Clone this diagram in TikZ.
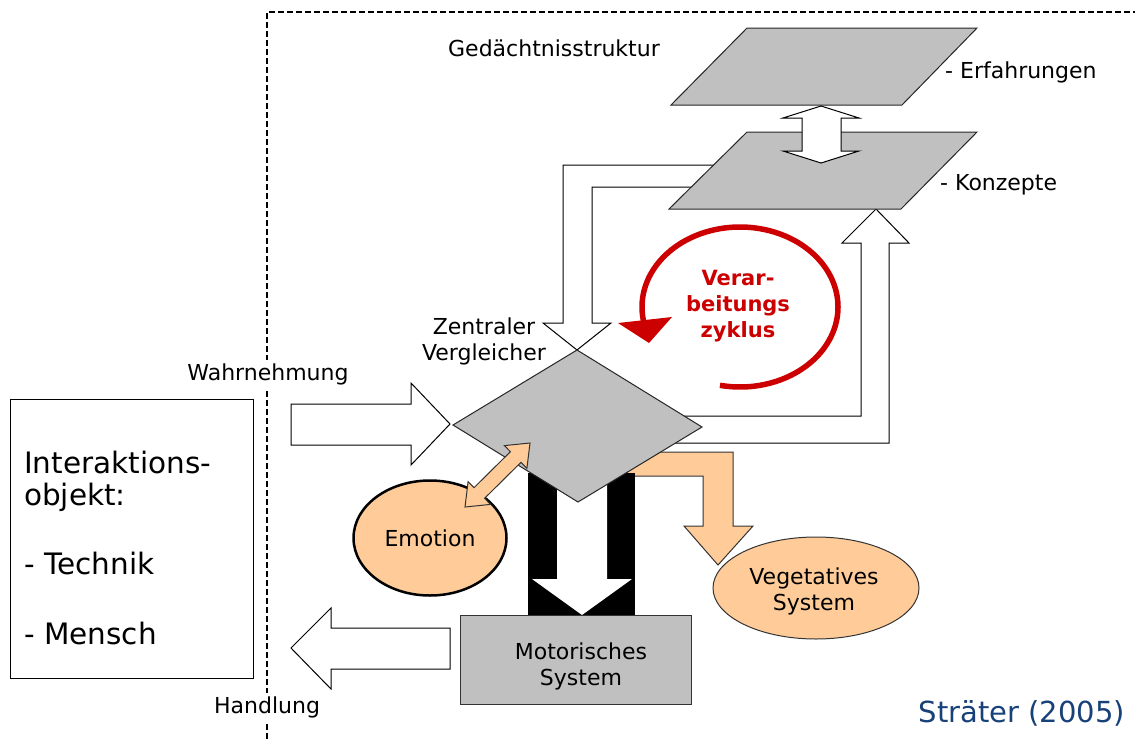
\documentclass[tikz,border=0pt]{standalone}
\usepackage{fontspec}
\setmainfont{DejaVu Sans}
\usetikzlibrary{shapes.geometric}
\definecolor{gfill}{RGB}{192,192,192}
\definecolor{orng}{RGB}{255,204,153}
\definecolor{dred}{RGB}{204,0,0}
\definecolor{dblue}{RGB}{23,65,120}
\begin{document}
\begin{tikzpicture}[x=1pt,y=-1pt,line join=miter,
  plane/.style={fill=gfill,draw=black!85,line width=1pt},
  blockarrow/.style={fill=white,draw=black,line width=1pt},
  orarrow/.style={fill=orng,draw=black!80,line width=1pt},
  lbl/.style={font=\fontsize{22}{26}\selectfont,inner sep=0pt,align=center},
  biglbl/.style={font=\fontsize{29.5}{34}\selectfont,inner sep=0pt,anchor=base west},
  sep/.style={line width=2pt,dash pattern=on 6pt off 3pt}]
\useasboundingbox (0,0) rectangle (1135,739);
% separator
\draw[sep] (267,739) -- (267,12) -- (1135,12);
% interaction object box
\node[draw,line width=1pt,minimum width=243pt,minimum height=279pt,inner sep=0pt] (obj) at (131.5,538.5) {};
\node[biglbl] (o1) at (24,473) {Interaktions-};
\node[biglbl] (o2) at (24,505) {objekt:};
\node[biglbl] (o3) at (24,574) {- Technik};
\node[biglbl] (o4) at (24,644) {- Mensch};
% memory planes
\draw[plane] (747,28) -- (977,28) -- (902,105) -- (671,105) -- cycle;
\draw[blockarrow] (740,165) -- (563,165) -- (563,323) -- (543,323) -- (577,350) -- (611,323) -- (592,323) -- (592,187) -- (740,187) -- cycle;
\draw[blockarrow] (650,416) -- (861,416) -- (861,243) -- (842,243) -- (876,209) -- (909,243) -- (889,243) -- (889,443) -- (650,443) -- cycle;
\draw[plane] (747,132) -- (977,132) -- (901,209) -- (669,209) -- cycle;
\draw[blockarrow] (821,106) -- (859,118) -- (841,118) -- (841,151) -- (859,151) -- (821,163) -- (783,151) -- (802,151) -- (802,118) -- (783,118) -- cycle;
% vegetative arrow
\draw[orarrow] (620,452) -- (733,452) -- (733,526) -- (753,526) -- (718,565) -- (684,526) -- (703,526) -- (703,476) -- (620,476) -- cycle;
% motor arrow
\fill[black] (528,473) rectangle (635,616);
\fill[white] (557,473) -- (607,473) -- (607,579) -- (632,579) -- (582,615) -- (532,579) -- (557,579) -- cycle;
% central comparator
\draw[plane] (577,350) -- (702,427) -- (578,502) -- (453,425) -- cycle;
% perception arrow
\draw[blockarrow] (291,404) -- (411,404) -- (411,383) -- (450,424) -- (411,465) -- (411,445) -- (291,445) -- cycle;
% emotion
\node[ellipse,fill=orng,draw=black,line width=2.5pt,minimum width=153pt,minimum height=115pt,inner sep=0pt] (emo) at (430,538) {};
\draw[orarrow] (465,507) -- (490.5,504.4) -- (484.6,498.3) -- (521.0,462.3) -- (526.9,468.4) -- (530,443) -- (504.5,445.6) -- (510.4,451.7) -- (474.0,487.7) -- (468.1,481.6) -- cycle;
% motor system
\node[draw=black!80,fill=gfill,line width=1pt,minimum width=231pt,minimum height=89pt,inner sep=0pt] (mot) at (575.5,659.5) {};
\draw[blockarrow] (450,628) -- (331,628) -- (331,608) -- (291,648) -- (331,689) -- (331,669) -- (450,669) -- cycle;
% vegetative system
\node[ellipse,fill=orng,draw=black!80,line width=1pt,minimum width=206pt,minimum height=102pt,inner sep=0pt] (veg) at (816,588) {};
% processing cycle
\draw[dred,line width=5.5pt] plot[domain=101.8:-190.8,samples=90,smooth] ({740+98*cos(\x)},{307+80*sin(\x)});
\fill[dred] (618,323) -- (672,317) -- (649,343) -- cycle;
\node[font=\fontsize{21}{26}\selectfont\bfseries,text=dred,align=center,inner sep=0pt] (cyc) at (738,306) {Verar-\\beitungs\\zyklus};
% labels
\node[lbl,anchor=base] (ged) at (554,56) {Gedächtnisstruktur};
\node[lbl,anchor=base west] (erf) at (945,78) {- Erfahrungen};
\node[lbl,anchor=base west] (kon) at (940,190) {- Konzepte};
\node[lbl,anchor=base,fill=white,inner sep=3pt] (wahr) at (268,380) {Wahrnehmung};
\node[lbl,anchor=base,fill=white,inner sep=3pt] (hand) at (267,713) {Handlung};
\node[lbl] (zv) at (484,341) {Zentraler\\Vergleicher};
\node[lbl,anchor=base] (emot) at (emo.center) [yshift=-8pt] {Emotion};
\node[lbl] (vegt) at (814,591) {Vegetatives\\System};
\node[lbl] (mott) at (581,666) {Motorisches\\System};
\node[font=\fontsize{29}{34}\selectfont,text=dblue,anchor=base,inner sep=0pt] (src) at (1022,722) {Sträter (2005)};
\end{tikzpicture}
\end{document}
